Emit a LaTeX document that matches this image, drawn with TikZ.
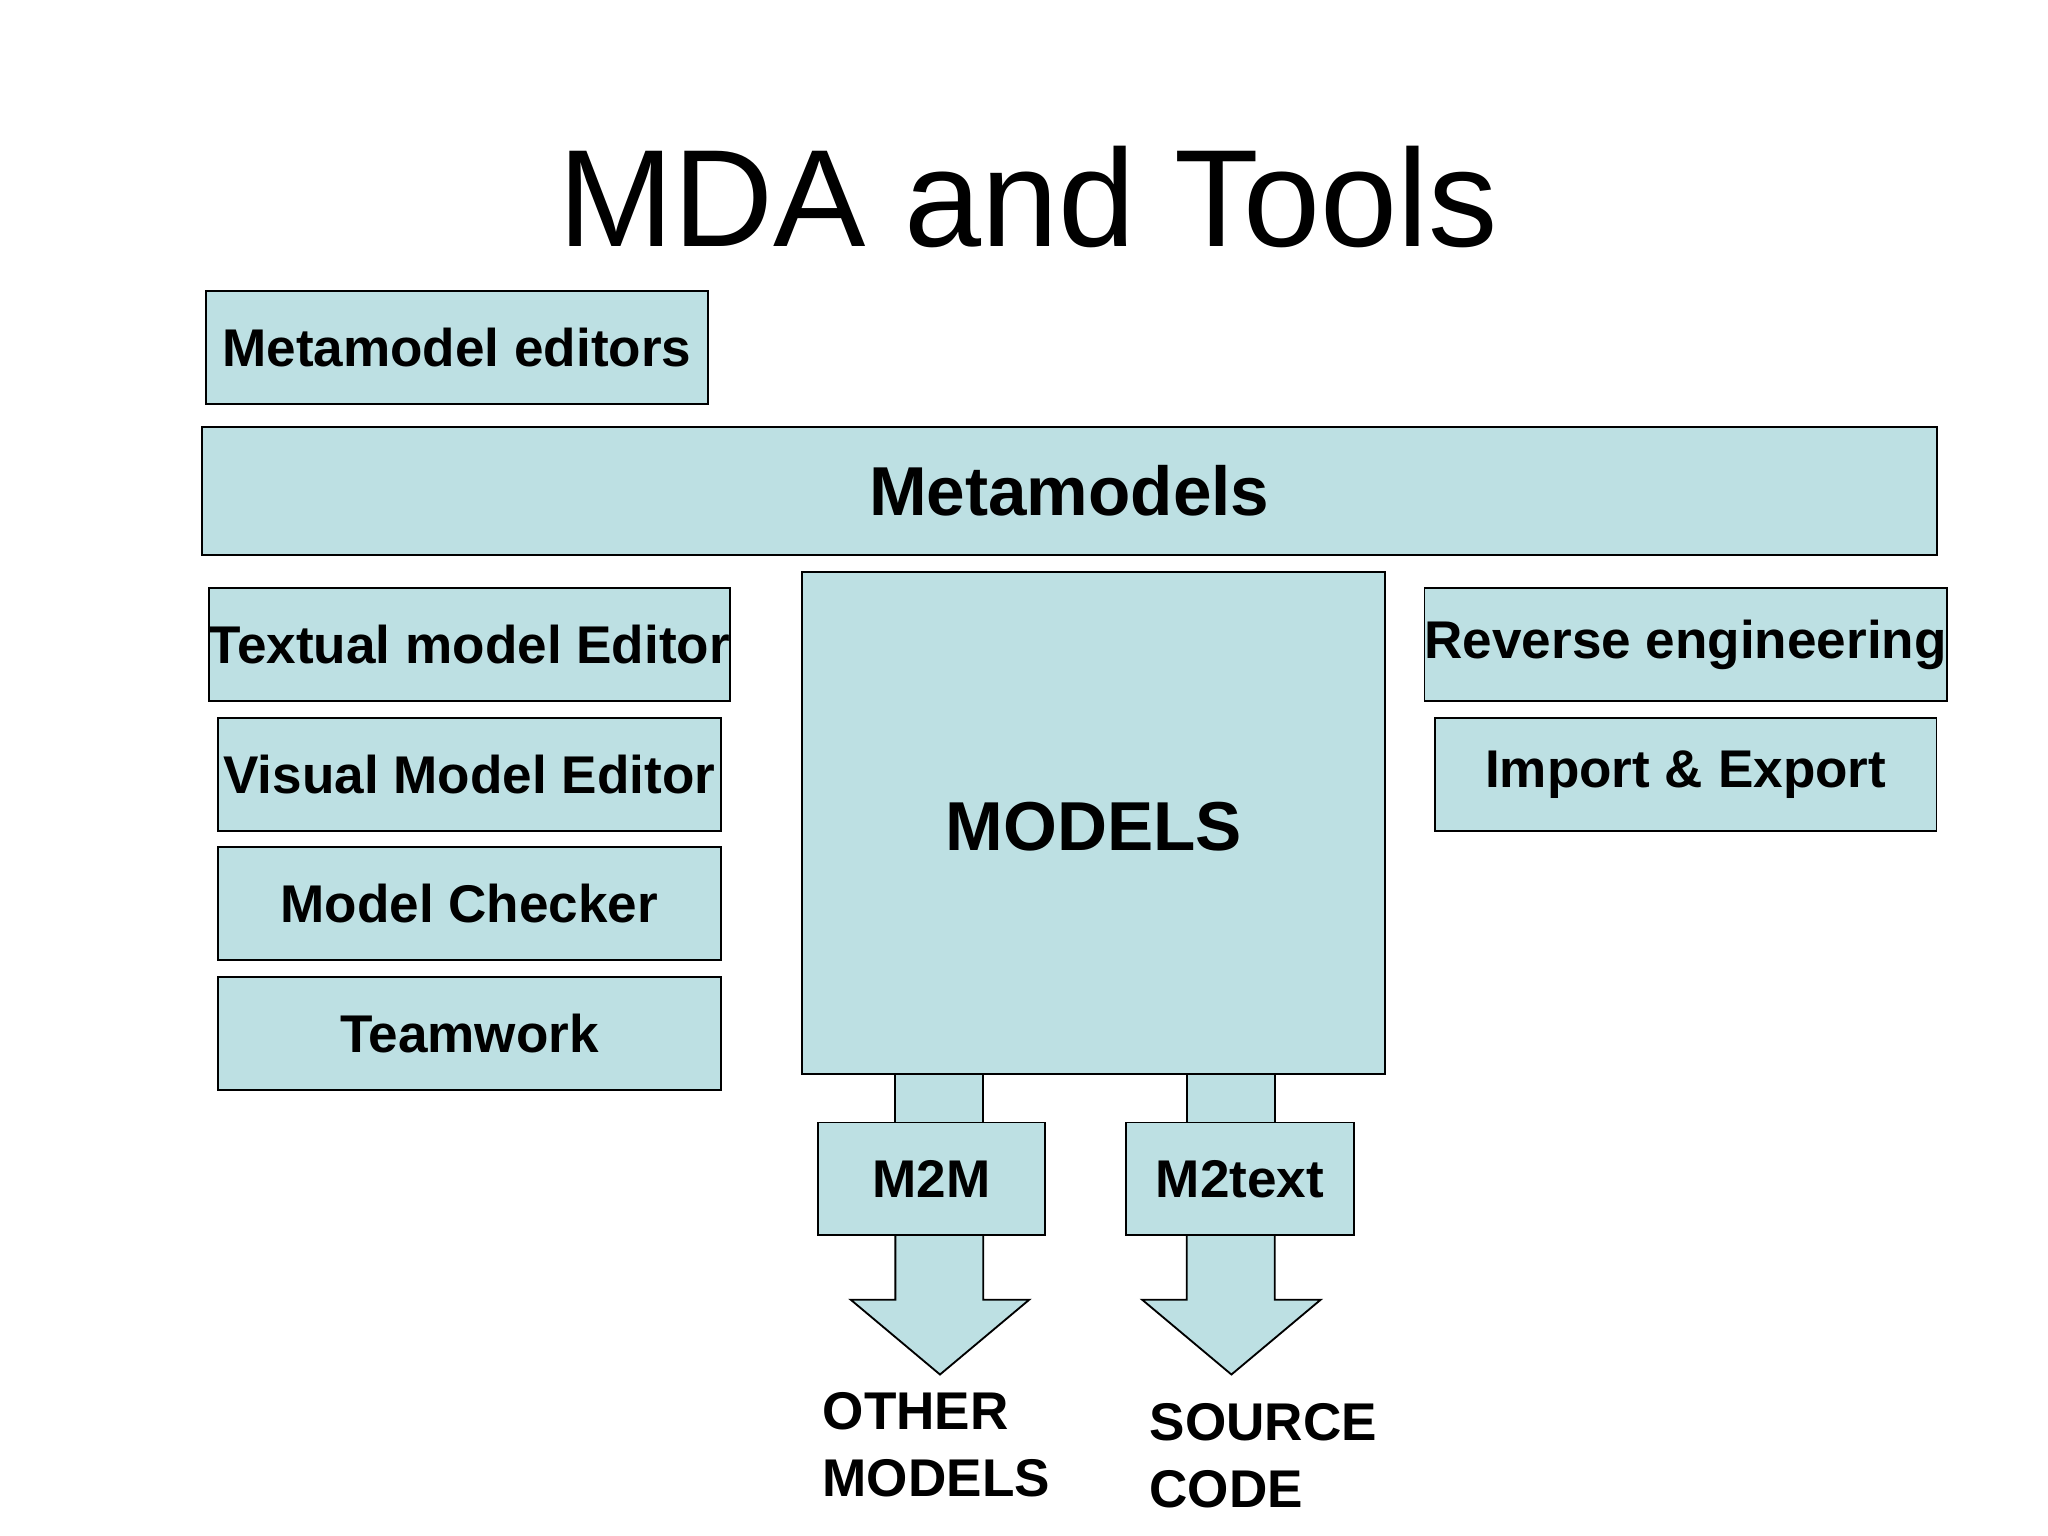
\documentclass[tikz,border=0pt]{standalone}
\usepackage{fontspec}
\setmainfont{Liberation Sans}
\definecolor{boxfill}{HTML}{BDE0E3}
\tikzset{
  box/.style = {draw, fill=boxfill, inner sep=0pt, font=\bfseries\fontsize{11.5}{13}\selectfont},
  big/.style = {font=\bfseries\fontsize{15}{17}\selectfont},
  lbl/.style = {anchor=north west, align=left, inner sep=0pt, font=\bfseries\fontsize{11.5}{14.5}\selectfont}
}
\begin{document}
\begin{tikzpicture}[x=0.01cm,y=-0.01cm,thin]
  \useasboundingbox (0,0) rectangle (1560,1170);
  \node[font=\fontsize{30}{34}\selectfont] (title) at (783,150) {MDA and Tools};
  % stems and arrows behind the boxes
  \draw[fill=boxfill] (682,810) rectangle (749,860);
  \draw[fill=boxfill] (904,810) rectangle (971,860);
  \draw[fill=boxfill] (682,935) -- (682,990) -- (648,990) -- (716,1047) -- (784,990) -- (749,990) -- (749,935);
  \draw[fill=boxfill] (904,935) -- (904,990) -- (870,990) -- (938,1047) -- (1006,990) -- (971,990) -- (971,935);
  \node[box, minimum width=3.82cm, minimum height=0.86cm] (editors) at (348,265) {Metamodel editors};
  \node[box, big, minimum width=13.21cm, minimum height=0.98cm] (meta) at (814.5,374) {Metamodels};
  \node[box, minimum width=3.83cm, minimum height=0.86cm] (textual) at (357.5,491) {Textual model Editor};
  \node[box, minimum width=3.83cm, minimum height=0.86cm] (visual) at (357.5,590) {Visual Model Editor};
  \node[box, minimum width=3.83cm, minimum height=0.86cm] (checker) at (357.5,688) {Model Checker};
  \node[box, minimum width=3.83cm, minimum height=0.86cm] (team) at (357.5,787) {Teamwork};
  \node[box, big, minimum width=4.44cm, minimum height=3.82cm] (models) at (833,627) {};
  \node[big] at (833,630) {MODELS};
  \node[box, minimum width=3.82cm, minimum height=0.86cm] (reverse) at (1284,491) {Reverse engineering};
  \node[box, minimum width=3.82cm, minimum height=0.86cm] (import) at (1284,590) {Import \& Export};
  \node[box, minimum width=1.73cm, minimum height=0.86cm] (mm) at (709.5,898) {M2M};
  \node[box, minimum width=1.73cm, minimum height=0.86cm] (mt) at (944.5,898) {M2text};
  \node[lbl] (other) at (626,1060) {OTHER\\MODELS};
  \node[lbl] (source) at (875,1068) {SOURCE\\CODE};
\end{tikzpicture}
\end{document}
